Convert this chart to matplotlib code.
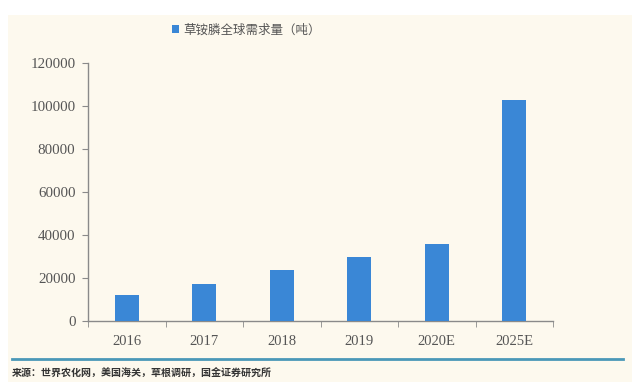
import matplotlib
matplotlib.use('Agg')
from matplotlib import pyplot as plt
from matplotlib.patches import Rectangle
from matplotlib.lines import Line2D

plt.rcParams['font.family'] = ['Liberation Serif', 'Noto Sans CJK SC', 'DejaVu Sans']

# 数据
years = ['2016', '2017', '2018', '2019', '2020E', '2025E']
demand = [12000, 17200, 23700, 29800, 35800, 103000]
series_name = '草铵膦全球需求量（吨）'
source = '来源：世界农化网，美国海关，草根调研，国金证券研究所'

bar_color = '#3a87d6'
bg = '#fdf9ee'
axis_color = '#8a8a8a'
text_color = '#555555'

fig = plt.figure(figsize=(6.4, 3.9), dpi=100)
fig.patch.set_facecolor('white')

# 米色底板
fig.patches.append(Rectangle((8 / 640, 1 - 382 / 390), 624 / 640, 367 / 390,
                             transform=fig.transFigure, facecolor=bg,
                             edgecolor='none', zorder=-5))

ax = fig.add_axes([88 / 640, 1 - 321 / 390, 465 / 640, 258 / 390])
ax.set_facecolor('none')
ax.set_zorder(2)

x = list(range(len(years)))
ax.bar(x, demand, width=0.31, color=bar_color, label=series_name, zorder=3)

ax.set_xlim(-0.5, len(years) - 0.5)
ax.set_ylim(0, 120000)
ax.set_yticks(range(0, 120001, 20000))
ax.set_xticks(x)
ax.set_xticklabels(years)
ax.set_xticks([i + 0.5 for i in range(-1, len(years))], minor=True)
ax.tick_params(axis='x', which='major', length=0, pad=10, labelsize=10.5, colors=text_color)
ax.tick_params(axis='x', which='minor', length=4, direction='out', color=axis_color)
ax.tick_params(axis='y', length=4, direction='out', color=axis_color, labelsize=10.8,
               labelcolor=text_color, pad=5)

for side in ['top', 'right']:
    ax.spines[side].set_visible(False)
for side in ['left', 'bottom']:
    ax.spines[side].set_color(axis_color)
    ax.spines[side].set_linewidth(1.0)

leg = fig.legend(loc='center', bbox_to_anchor=(246 / 640, 1 - 30 / 390), frameon=False,
                 handlelength=0.6, handleheight=0.6, handletextpad=0.3,
                 prop={'family': ['Noto Sans CJK SC'], 'size': 9})
for t in leg.get_texts():
    t.set_color(text_color)

# 底部蓝线和来源
fig.add_artist(Line2D([12 / 640, 623 / 640], [1 - 359 / 390] * 2,
                      transform=fig.transFigure, color='#4a98b8', linewidth=2))
fig.text(12 / 640, 1 - 373 / 390, source, fontsize=7.2, fontweight='bold',
         family=['Noto Sans CJK SC'], color='#333333', va='center', ha='left')

plt.savefig('out.png', dpi=100)
